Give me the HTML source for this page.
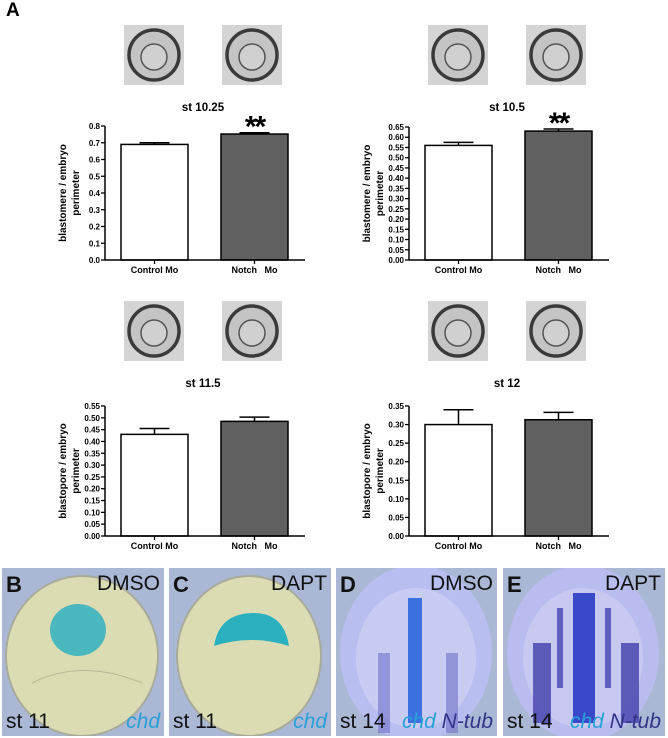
<!DOCTYPE html>
<html><head><meta charset="utf-8"><style>
body{margin:0;background:#fff;width:668px;height:738px;overflow:hidden;position:relative;font-family:"Liberation Sans",Arial,sans-serif}
.panel{position:absolute;top:568px;height:168px;background:#aab8d6;overflow:hidden}
.let{position:absolute;left:4px;top:4px;font-size:22px;font-weight:bold;color:#111}
.tr{position:absolute;right:4px;top:4px;font-size:21px;color:#111}
.bl{position:absolute;left:4px;bottom:2px;font-size:21px;color:#111}
.br{position:absolute;right:4px;bottom:2px;font-size:21px;font-style:italic}
text{white-space:pre}
</style></head><body>
<div style="position:absolute;left:6px;top:0px;font-size:19px;font-weight:bold">A</div>
<svg id="charts" width="668" height="560" style="position:absolute;left:0;top:0"></svg>

<div class="panel" style="left:2px;width:162px">
<svg width="162" height="168"><ellipse cx="80" cy="88" rx="76" ry="80" fill="#dcdcb4" stroke="#a8aa9a" stroke-width="2"/><ellipse cx="76" cy="62" rx="28" ry="26" fill="#30b2c0" opacity="0.85"/><path d="M30 115 Q80 90 140 115" stroke="#b8b898" fill="none"/></svg>
<div class="let">B</div><div class="tr">DMSO</div><div class="bl">st 11</div><div class="br" style="color:#2aa0d8">chd</div></div>
<div class="panel" style="left:169px;width:162px">
<svg width="162" height="168"><ellipse cx="80" cy="88" rx="72" ry="80" fill="#dcdcb4" stroke="#a8aa9a" stroke-width="2"/><path d="M45 78 Q50 45 85 45 Q115 45 120 78 Q82 66 45 78Z" fill="#2bb0c0"/></svg>
<div class="let">C</div><div class="tr">DAPT</div><div class="bl">st 11</div><div class="br" style="color:#2aa0d8">chd</div></div>
<div class="panel" style="left:336px;width:161px">
<svg width="161" height="168"><ellipse cx="80" cy="85" rx="76" ry="88" fill="#b8bef0"/><ellipse cx="80" cy="90" rx="60" ry="70" fill="#c8ccf2"/><rect x="72" y="30" width="14" height="125" fill="#3a70e0"/><rect x="42" y="85" width="12" height="80" fill="#7070c8" opacity="0.6"/><rect x="110" y="85" width="12" height="80" fill="#7070c8" opacity="0.6"/></svg>
<div class="let">D</div><div class="tr">DMSO</div><div class="bl">st 14</div><div class="br"><span style="color:#2aa0d8">chd</span> <span style="color:#33338a">N-tub</span></div></div>
<div class="panel" style="left:503px;width:162px">
<svg width="162" height="168"><ellipse cx="80" cy="85" rx="76" ry="88" fill="#b8bcee"/><ellipse cx="80" cy="90" rx="60" ry="70" fill="#c8c8f0"/><rect x="70" y="25" width="22" height="130" fill="#3848c8"/><rect x="30" y="75" width="18" height="80" fill="#4a48b0" opacity="0.85"/><rect x="118" y="75" width="18" height="80" fill="#4a48b0" opacity="0.85"/><rect x="54" y="40" width="6" height="80" fill="#6060c0"/><rect x="102" y="40" width="6" height="80" fill="#6060c0"/></svg>
<div class="let">E</div><div class="tr">DAPT</div><div class="bl">st 14</div><div class="br"><span style="color:#2aa0d8">chd</span> <span style="color:#33338a">N-tub</span></div></div>

<script>
const categories=["Control Mo","Notch   Mo"];
const titles=["st 10.25","st 10.5","st 11.5","st 12"];
const yTitles=["blastomere / embryo","blastomere / embryo","blastopore / embryo","blastopore / embryo"];
const controlValues=[0.69,0.56,0.43,0.30];
const notchValues=[0.752,0.63,0.485,0.313];
const controlErrors=[0.01,0.015,0.025,0.04];
const notchErrors=[0.008,0.01,0.018,0.02];
const yMaxes=[0.8,0.65,0.55,0.35];
const tickSteps=[0.1,0.05,0.05,0.05];
const tickDecimals=[1,2,2,2];
const significance=["**","**","",""];
const layout=[{ax:105,y0:260,yTop:126},{ax:409,y0:260,yTop:127},{ax:105,y0:536,yTop:406},{ax:409,y0:536,yTop:406}];
const NS="http://www.w3.org/2000/svg";
const svg=document.getElementById('charts');
function mk(t,a,p){const e=document.createElementNS(NS,t);for(const k in a)e.setAttribute(k,a[k]);(p||svg).appendChild(e);return e;}
for(let i=0;i<4;i++){
  const L=layout[i];
  const g=mk('g',{});
  
  
  const y=v=>L.y0-(v/yMaxes[i])*(L.y0-L.yTop);
  [L.ax+19,L.ax+117].forEach((tx,j)=>{
    const ty=L.y0-235;
    const th=mk('g',{},g);
    
    
    mk('rect',{x:tx,y:ty,width:60,height:60,fill:'#d4d4d4'},th);
    mk('circle',{cx:tx+30,cy:ty+30,r:25,fill:'#c4c4c4',stroke:'#3a3a3a','stroke-width':3.5},th);
    mk('circle',{cx:tx+30,cy:ty+32,r:13,fill:'#d0d0d0',stroke:'#555','stroke-width':1.5},th);
  });
  const t=mk('text',{x:L.ax+98,y:L.y0-149,'text-anchor':'middle','font-size':11.5,'font-weight':'bold'},g);t.textContent=titles[i];
  
  const yt=mk('text',{transform:`translate(${L.ax-39},${(L.y0+L.yTop)/2}) rotate(-90)`,'text-anchor':'middle','font-size':10,'font-weight':'bold'},g);
  
  const s1=mk('tspan',{x:0,dy:0},yt);s1.textContent=yTitles[i];
  const s2=mk('tspan',{x:0,dy:13},yt);s2.textContent='perimeter';
  const n=Math.round(yMaxes[i]/tickSteps[i]);
  for(let k=0;k<=n;k++){
    const v=k*tickSteps[i];
    mk('line',{x1:L.ax-4,x2:L.ax,y1:y(v),y2:y(v),stroke:'#000','stroke-width':1.3},g);
    const tl=mk('text',{x:L.ax-5,y:y(v)+3,'text-anchor':'end','font-size':8,'font-weight':'bold'},g);
    tl.textContent=v.toFixed(tickDecimals[i]);
    
  }
  const vals=[controlValues[i],notchValues[i]],errs=[controlErrors[i],notchErrors[i]];
  for(let b=0;b<2;b++){
    const bx=L.ax+16+b*100,w=67;
    mk('line',{x1:bx+w/2,x2:bx+w/2,y1:y(vals[b]),y2:y(vals[b]+errs[b]),stroke:'#000','stroke-width':1.5},g);
    mk('line',{x1:bx+w/2-15,x2:bx+w/2+15,y1:y(vals[b]+errs[b]),y2:y(vals[b]+errs[b]),stroke:'#000','stroke-width':1.5},g);
    const r=mk('rect',{x:bx,y:y(vals[b]),width:w,height:L.y0-y(vals[b]),fill:b?'#606060':'#fff',stroke:'#000','stroke-width':1.5},g);
    
    mk('line',{x1:bx+w/2,x2:bx+w/2,y1:L.y0,y2:L.y0+4,stroke:'#000','stroke-width':1.3},g);
    const cl=mk('text',{x:bx+w/2,y:L.y0+13,'text-anchor':'middle','font-size':9,'font-weight':'bold'},g);
    cl.textContent=categories[b];
    
    if(b===1&&significance[i]){
      const st=mk('text',{x:bx+w/2,y:y(vals[b]+errs[b])+14,'text-anchor':'middle','font-size':30,'font-weight':'bold','letter-spacing':'-2'},g);
      st.setAttribute('transform',`translate(0,-10)`);
      st.textContent=significance[i];
      
    }
  }
  mk('line',{x1:L.ax,x2:L.ax,y1:L.yTop,y2:L.y0,stroke:'#000','stroke-width':1.5},g);
  mk('line',{x1:L.ax,x2:L.ax+200,y1:L.y0,y2:L.y0,stroke:'#000','stroke-width':1.5},g);
}
</script>
</body></html>
